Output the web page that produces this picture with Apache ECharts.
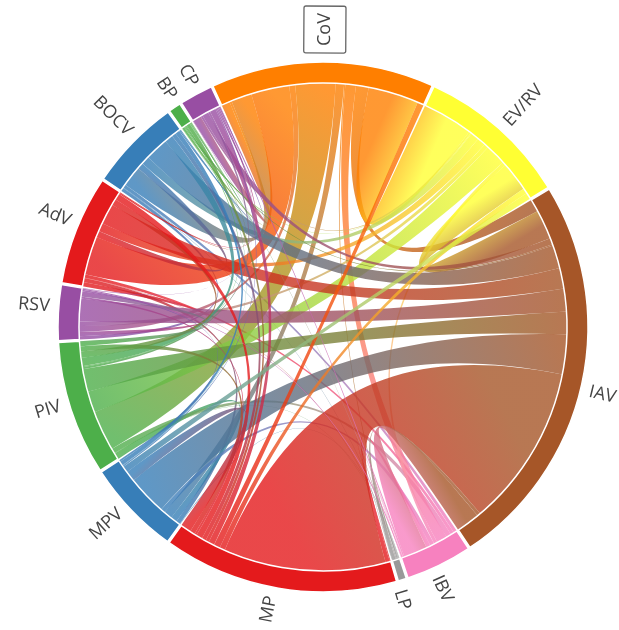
<!DOCTYPE html>
<html><head><meta charset="utf-8">
<script src="https://cdn.jsdelivr.net/npm/echarts@6/dist/echarts.min.js"></script>
<style>html,body{margin:0;padding:0;background:#fff}#c{width:619px;height:630px}</style>
</head><body><div id="c"></div>
<script>
const nodeNames = ['AdV','BOCV','BP','CP','CoV','EV/RV','IAV','IBV','LP','MP','MPV','PIV','RSV'];
const nodeColors = ['#e41a1c','#377eb8','#4daf4a','#984ea3','#ff7f00','#ffff33','#a65628','#f781bf','#999999','#e41a1c','#377eb8','#4daf4a','#984ea3'];
const linkSource = ['AdV','AdV','AdV','AdV','AdV','AdV','AdV','AdV','AdV','AdV','AdV','AdV',
  'BOCV','BOCV','BOCV','BOCV','BOCV','BOCV','BOCV','BOCV','BOCV','BOCV','BOCV',
  'BP','BP','BP','BP','BP','BP','BP','BP',
  'CP','CP','CP','CP','CP','CP','CP','CP',
  'CoV','CoV','CoV','CoV','CoV','CoV','CoV','CoV',
  'EV/RV','EV/RV','EV/RV','EV/RV','EV/RV','EV/RV',
  'IAV','IAV','IAV','IAV','IAV','IAV',
  'IBV','IBV','IBV','IBV','IBV',
  'LP','LP','LP',
  'MP','MP','MP',
  'MPV','MPV',
  'PIV'];
const linkTarget = ['BOCV','BP','CP','CoV','EV/RV','IAV','IBV','LP','MP','MPV','PIV','RSV',
  'BP','CP','CoV','EV/RV','IAV','IBV','LP','MP','MPV','PIV','RSV',
  'CP','CoV','EV/RV','IAV','IBV','MP','MPV','PIV',
  'CoV','EV/RV','IAV','IBV','MP','MPV','PIV','RSV',
  'EV/RV','IAV','IBV','LP','MP','MPV','PIV','RSV',
  'IAV','IBV','MP','MPV','PIV','RSV',
  'IBV','LP','MP','MPV','PIV','RSV',
  'LP','MP','MPV','PIV','RSV',
  'MP','MPV','PIV',
  'MPV','PIV','RSV',
  'PIV','RSV',
  'RSV'];
const linkValue = [1.5,0.2,0.3,9.1,2,4.9,0.8,0.1,1.5,1,1.5,1,
  0.2,0.3,4.9,2,5.5,0.8,0.1,1,1,2,0.8,
  0.1,0.5,0.2,0.3,0.1,0.8,0.1,0.2,
  2,0.5,1.5,0.3,1.4,0.3,0.5,0.1,
  12,3,2.5,0.3,1.5,2,9.5,1.4,
  7,0.8,1.3,1.5,5,1,
  5.6,0.8,38.5,9.4,5.4,5.4,
  0.1,1,1,1.2,0.3,
  0.2,0.1,0.1,
  2.5,1.2,0.5,
  1.5,0.4,
  1.2];

// ---- order the links so that ribbons inside each node follow the neighbour order ----
const N = nodeNames.length;
const edges = linkSource.map((s, k) => [nodeNames.indexOf(s), nodeNames.indexOf(linkTarget[k]), linkValue[k], k]);
function cost(order) {
  let c = 0;
  const seen = Array.from({length: N}, () => []);
  for (const e of order) {
    const [a, b, v] = edges[e];
    for (const [x, y] of [[a, b], [b, a]]) {
      const r = (x - y + N) % N;
      for (const [r2, v2] of seen[x]) if (r2 > r) c += v * v2;
      seen[x].push([r, v]);
    }
  }
  return c;
}
let best = null, bestCost = Infinity;
for (let cut = 0; cut < N; cut++) {
  const ord = edges.map((e, i) => i).sort((p, q) => {
    const ka = edges[p].slice(0, 2).map(x => (x - cut + N) % N).sort((u, w) => w - u);
    const kb = edges[q].slice(0, 2).map(x => (x - cut + N) % N).sort((u, w) => w - u);
    return (kb[0] - ka[0]) || (kb[1] - ka[1]);
  });
  const c = cost(ord);
  if (c < bestCost) { bestCost = c; best = ord; }
}
let improved = true, guard = 0;
while (improved && guard++ < 30) {
  improved = false;
  for (let i = 0; i < best.length; i++) {
    for (let j = 0; j < best.length; j++) {
      if (i === j) continue;
      const cand = best.slice();
      const [it] = cand.splice(i, 1);
      cand.splice(j, 0, it);
      const c = cost(cand);
      if (c < bestCost - 1e-9) { bestCost = c; best = cand; improved = true; }
    }
  }
}

const links = best.map(i => ({source: linkSource[i], target: linkTarget[i], value: linkValue[i]}));
const nodeTotals = nodeNames.map(n => linkValue.reduce((s, v, k) => s + ((linkSource[k] === n || linkTarget[k] === n) ? v : 0), 0));
const chordData = nodeNames.map((n, i) => ({name: n, itemStyle: {color: nodeColors[i]}}));
const labelData = nodeNames.map((n, i) => {
  const d = {name: n, value: nodeTotals[i]};
  if (n === 'CoV') d.label = {borderColor: '#666', borderWidth: 1.3, borderRadius: 2, padding: [12, 7]};
  return d;
});

const CENTER = [323, 327];
const START = 170.4;
const chart = echarts.init(document.getElementById('c'), null, {renderer: 'canvas'});
chart.setOption({
  animation: false,
  series: [{
    type: 'chord',
    center: CENTER,
    radius: [244, 265],
    startAngle: START,
    clockwise: true,
    padAngle: 0.4,
    itemStyle: {borderColor: '#fff', borderWidth: 1.5, borderRadius: 0},
    lineStyle: {color: 'gradient', opacity: 0.8},
    label: {show: false},
    data: chordData,
    links: links
  }, {
    type: 'pie',
    silent: true,
    z: 5,
    center: CENTER,
    radius: [244, 265],
    startAngle: START - 0.9,
    clockwise: true,
    avoidLabelOverlap: false,
    itemStyle: {color: 'rgba(0,0,0,0)', borderWidth: 0},
    label: {show: true, position: 'outside', rotate: 'radial', distanceToLabelLine: 0, color: '#444', fontSize: 18, fontFamily: 'Open Sans'},
    labelLine: {show: false, length: 9, length2: 0},
    emphasis: {disabled: true},
    data: labelData
  }]
});
</script></body></html>
